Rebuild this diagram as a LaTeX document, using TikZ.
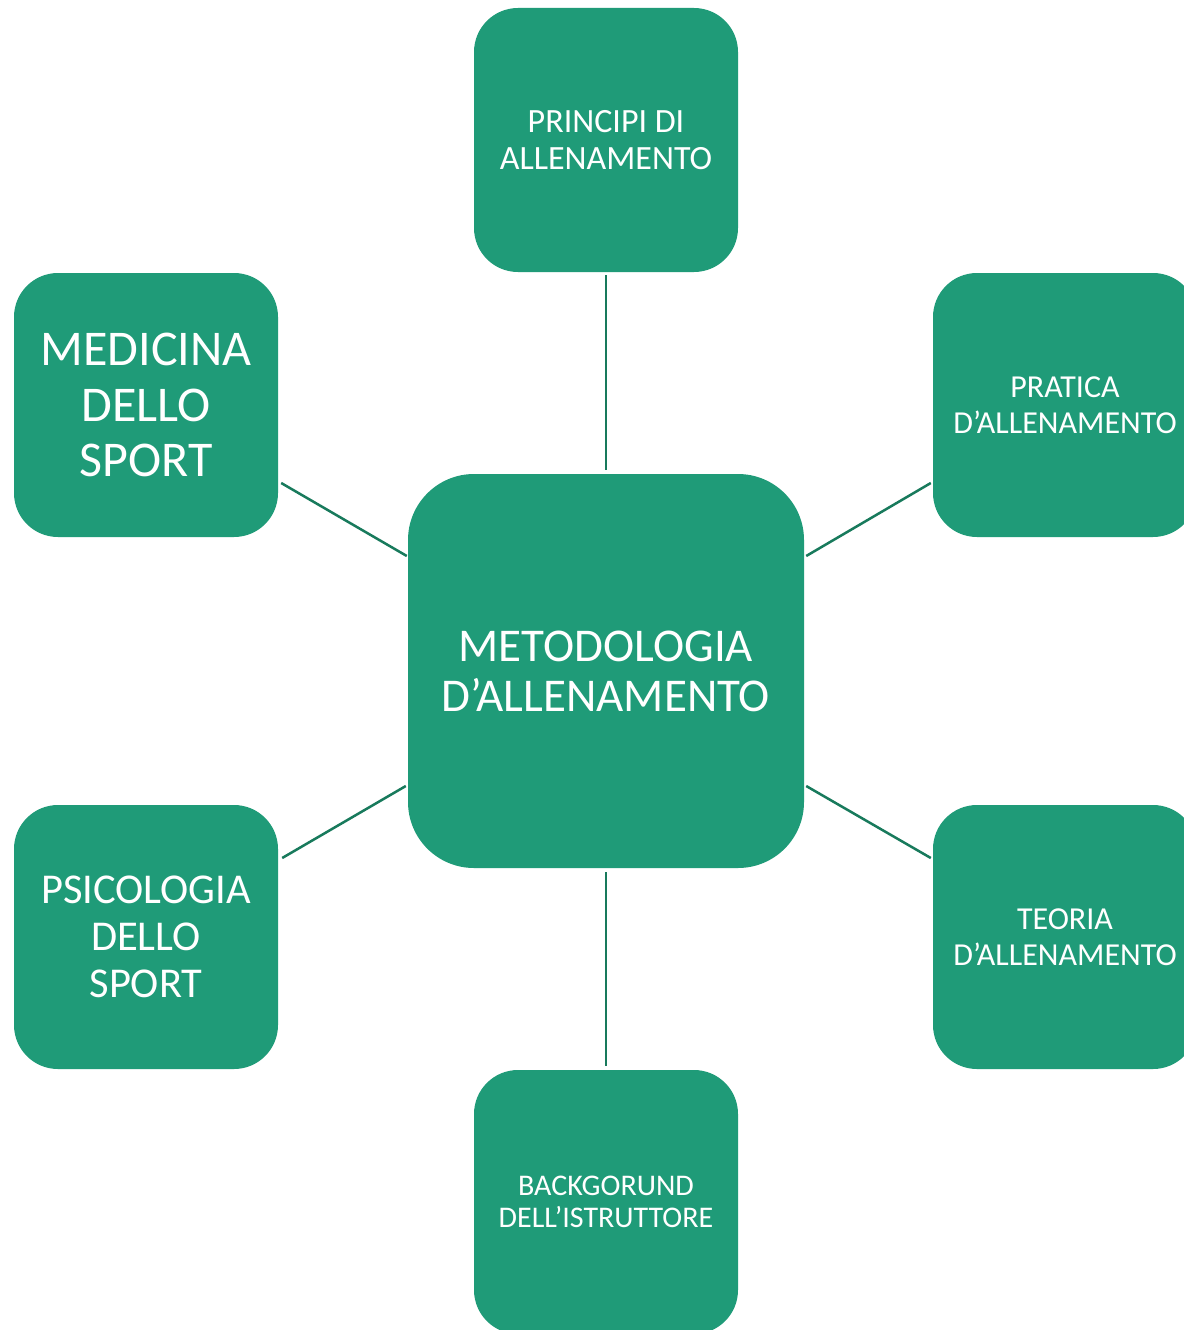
\documentclass[tikz,border=0pt]{standalone}
\usepackage{fontspec}
\setmainfont{Carlito}
\definecolor{boxgreen}{RGB}{31,155,120}
\definecolor{linkgreen}{RGB}{24,122,92}
\begin{document}
\begin{tikzpicture}[x=1pt,y=-1pt,
  topic/.style={rectangle, rounded corners=44pt, fill=boxgreen, text=white,
    minimum width=264pt, minimum height=264pt, align=center, inner sep=0pt},
  hub/.style={rectangle, rounded corners=66pt, fill=boxgreen, text=white,
    minimum width=396pt, minimum height=394pt, align=center, inner sep=0pt},
  link/.style={draw=linkgreen, line width=2.5pt}]
\useasboundingbox (0,0) rectangle (1183,1330);
\fill[white] (0,0) rectangle (1183,1330);

% central topic
\node[hub, font={\fontsize{47}{50}\selectfont}] (ctr) at (606,671)
  {METODOLOGIA\\D’ALLENAMENTO};

% surrounding topics
\node[topic, font={\fontsize{34}{37}\selectfont}] (pr) at (606,140)
  {PRINCIPI DI\\ALLENAMENTO};
\node[topic, font={\fontsize{32}{36}\selectfont}] (pa) at (1065,405)
  {PRATICA\\D’ALLENAMENTO};
\node[topic, font={\fontsize{32}{36}\selectfont}] (te) at (1065,937)
  {TEORIA\\D’ALLENAMENTO};
\node[topic, font={\fontsize{30}{32}\selectfont}] (bg) at (606,1202)
  {BACKGORUND\\DELL’ISTRUTTORE};
\node[topic, font={\fontsize{42.5}{47}\selectfont}] (ps) at (146,937)
  {PSICOLOGIA\\DELLO\\SPORT};
\node[topic, font={\fontsize{50}{55.6}\selectfont}] (mt) at (146,405)
  {MEDICINA\\DELLO\\SPORT};

% connectors
\draw[link] ([shift={(0,3)}]pr.south) -- ([shift={(0,-4)}]ctr.north);
\draw[link] ([shift={(0,4)}]ctr.south) -- ([shift={(0,-4)}]bg.north);
\draw[link] ([shift={(3,78)}]mt.east) -- ([shift={(-1,-115)}]ctr.west);
\draw[link] ([shift={(4,-79)}]ps.east) -- ([shift={(-2,115)}]ctr.west);
\draw[link] ([shift={(2,-115)}]ctr.east) -- ([shift={(-2,78)}]pa.west);
\draw[link] ([shift={(2,115)}]ctr.east) -- ([shift={(-2,-79)}]te.west);
\end{tikzpicture}
\end{document}
